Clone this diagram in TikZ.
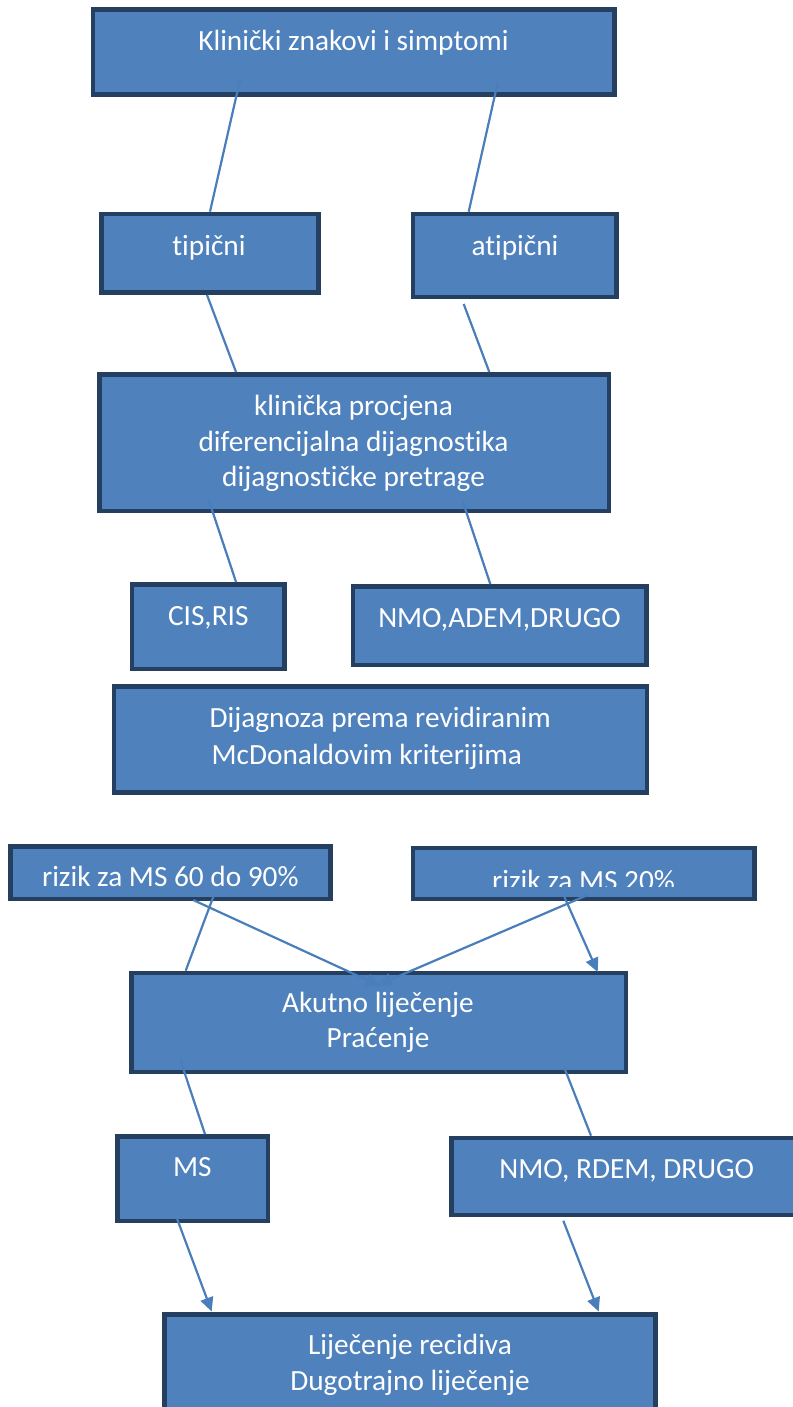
\documentclass[tikz,border=0pt]{standalone}
\usepackage{fontspec}
\setmainfont{Carlito}[Ligatures={NoCommon}]
\usetikzlibrary{arrows.meta}
\definecolor{boxfill}{HTML}{4F81BD}
\definecolor{boxline}{HTML}{243F60}
\definecolor{conncol}{HTML}{4A7EBB}
\tikzset{
  box/.style={draw=boxline, fill=boxfill, line width=4.5pt, rectangle, inner sep=0pt},
  txt/.style={text=white, anchor=base, inner sep=0pt, font=\fontsize{29.3}{35.5}\selectfont},
  conn/.style={draw=conncol, line width=2.2pt},
  arr/.style={conn, -{Triangle[length=14pt,width=13pt]}}
}
\begin{document}
\begin{tikzpicture}[x=1pt,y=-1pt]
\useasboundingbox (0,0) rectangle (792,1407);
% boxes
\node[box, minimum width=521.2pt, minimum height=84.9pt] (top) at (353.8,52) {};
\node[box, minimum width=216.9pt, minimum height=78.8pt] (tip) at (210,253.3) {};
\node[box, minimum width=203.2pt, minimum height=83.1pt] (atip) at (514.8,255.5) {};
\node[box, minimum width=509.5pt, minimum height=136.5pt] (klin) at (354,442.5) {};
\node[box, minimum width=152.8pt, minimum height=84.5pt] (cis) at (208.3,626.5) {};
\node[box, minimum width=293.2pt, minimum height=78.5pt] (nmoa) at (499.8,625.5) {};
\node[box, minimum width=533.1pt, minimum height=105.9pt] (dij) at (380.5,739.5) {};
\node[box, minimum width=319.9pt, minimum height=52.8pt] (rsix) at (170.5,872.7) {};
\node[box, minimum width=341.2pt, minimum height=51.1pt] (rtwo) at (583.8,873.5) {};
\node[box, minimum width=494.8pt, minimum height=99.1pt] (ak) at (378.7,1022.5) {};
\node[box, minimum width=150.5pt, minimum height=84.8pt] (ms) at (192.5,1178.7) {};
\node[box, minimum width=356.2pt, minimum height=77.1pt] (nmob) at (629.7,1176.5) {};
\node[box, minimum width=490.9pt, minimum height=103.2pt] (lij) at (410,1366) {};
% texts
\node[txt] (topT) at (353.5,51) {Klinički znakovi i simptomi};
\node[txt] (tipT) at (209,255) {tipični};
\node[txt] (atipT) at (515,255) {atipični};
\node[txt] (klinTa) at (353.5,415.3) {klinička procjena};
\node[txt] (klinTb) at (353.5,451) {diferencijalna dijagnostika};
\node[txt] (klinTc) at (353.5,486) {dijagnostičke pretrage};
\node[txt] (cisT) at (208.3,625.3) {CIS,RIS};
\node[txt] (nmoaT) at (499.5,627) {NMO,ADEM,DRUGO};
\node[txt] (dijTa) at (380.2,727.3) {Dijagnoza prema revidiranim};
\node[txt] (dijTb) at (366.8,764) {McDonaldovim kriterijima};
\node[txt] (rsixT) at (170.3,886.7) {rizik za MS 60 do 90\%};
\begin{scope}
  \clip (411,850) rectangle (757,886.7);
  \node[txt] (rtwoT) at (583.5,890.5) {rizik za MS 20\%};
\end{scope}
\node[txt] (akTa) at (378,1012.3) {Akutno liječenje};
\node[txt] (akTb) at (378,1047.3) {Praćenje};
\node[txt] (msT) at (192.3,1176.7) {MS};
\node[txt] (nmobT) at (626.7,1178.3) {NMO, RDEM, DRUGO};
\node[txt] (lijTa) at (410,1354) {Liječenje recidiva};
\node[txt] (lijTb) at (410,1390) {Dugotrajno liječenje};
% connectors
\draw[conn] ([xshift=-113.8pt,yshift=16.7pt]top.south) -- (tip.north);
\draw[conn] ([xshift=143.9pt,yshift=14pt]top.south) -- ([xshift=-46.1pt]atip.north);
\draw[conn] ([xshift=-3pt]tip.south) -- ([xshift=-118pt]klin.north);
\draw[conn] ([xshift=-51.1pt,yshift=-4.7pt]atip.south) -- ([xshift=135.3pt]klin.north);
\draw[conn] ([xshift=-145.7pt,yshift=14.3pt]klin.south) -- ([xshift=27.7pt]cis.north);
\draw[conn] ([xshift=108.7pt,yshift=11.7pt]klin.south) -- ([xshift=-9.5pt]nmoa.north);
\draw[conn] ([xshift=42.8pt,yshift=4.6pt]rsix.south) -- ([xshift=-193pt]ak.north);
\draw[arr] ([xshift=22.8pt,yshift=1.3pt]rsix.south) -- ([xshift=1.3pt,yshift=-15.3pt]ak.north);
\draw[arr] ([xshift=3.9pt,yshift=6.3pt]rtwo.south) -- ([xshift=-0.7pt,yshift=-14.3pt]ak.north);
\draw[arr] ([xshift=-19.5pt,yshift=4.6pt]rtwo.south) -- ([xshift=219pt,yshift=-1.3pt]ak.north);
\draw[conn] ([xshift=-198.7pt,yshift=15.3pt]ak.south) -- ([xshift=12.5pt]ms.north);
\draw[conn] ([xshift=185.6pt,yshift=6.6pt]ak.south) -- ([xshift=-38.7pt]nmob.north);
\draw[arr] ([xshift=-15.8pt,yshift=5.6pt]ms.south) -- ([xshift=-198.3pt,yshift=0.6pt]lij.north);
\draw[arr] ([xshift=-66.4pt,yshift=-3.4pt]nmob.south) -- ([xshift=188.7pt,yshift=0.6pt]lij.north);
\end{tikzpicture}
\end{document}
